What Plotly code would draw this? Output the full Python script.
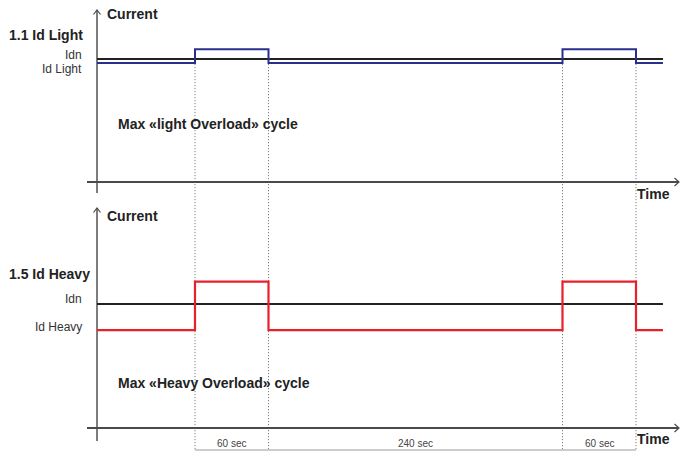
import plotly.graph_objects as go

# ---- cycle timing (seconds) ----
t_start = 0
pulse_starts = [80, 380]
pulse_len = 60
rest_len = 240
t_end = 462
interval_labels = ["60 sec", "240 sec", "60 sec"]

# ---- current levels (relative to Idn = 1) ----
idn = 1.0
light_base = 0.967      # Id Light
light_peak = 1.08       # 1.1 Id Light
heavy_base = 0.79       # Id Heavy
heavy_peak = 1.18       # 1.5 Id Heavy

# ---- styling ----
FONT = "Liberation Sans, Arial, sans-serif"
BLUE = "#2a2f8e"
RED = "#e8202a"
BLACK = "#222222"
AXIS_Y = "#7d7d7d"
AXIS_X = "#4a4a4a"
DOT = "#666666"

W, H = 681, 451
PX_PER_S = 1.225           # horizontal scale
ORIGIN_PX = 97             # pixel column of the time origin
TOP_ZERO_PX, TOP_UNIT = 182, 123     # top panel: zero line pixel row, px per unit
BOT_ZERO_PX, BOT_UNIT = 428, 124     # bottom panel


def top_v(px):
    return (TOP_ZERO_PX - px) / TOP_UNIT


def bot_v(px):
    return (BOT_ZERO_PX - px) / BOT_UNIT


def t_of(px):
    return (px - ORIGIN_PX) / PX_PER_S


# step profile of the overload cycle
edges = [t_start]
for s in pulse_starts:
    edges += [s, s + pulse_len]
edges.append(t_end)


def profile(base, peak):
    ys = [base]
    for _ in pulse_starts:
        ys += [peak, base]
    ys.append(base)
    return ys


fig = go.Figure()


def line(x, y, color, width, axis="y", dash=None, shape="linear"):
    fig.add_trace(go.Scatter(
        x=x, y=y, mode="lines", yaxis=axis, hoverinfo="skip", showlegend=False,
        line=dict(color=color, width=width, dash=dash, shape=shape)))


# dotted guides at each pulse edge, spanning both panels
for s in pulse_starts:
    for t in (s, s + pulse_len):
        line([t, t], [light_peak, top_v(450)], DOT, 1, "y", dash="1px,2px")

# bracket line under the duration labels
line([pulse_starts[0], pulse_starts[-1] + pulse_len], [bot_v(450), bot_v(450)], "#9a9a9a", 1, "y2")

# axes: top panel
line([0, 0], [top_v(193), top_v(10)], AXIS_Y, 2, "y")
line([t_of(87), t_of(679)], [0, 0], AXIS_X, 1.8, "y")
# axes: bottom panel
line([0, 0], [bot_v(441), bot_v(208)], AXIS_Y, 2, "y2")
line([t_of(87), t_of(679)], [0, 0], AXIS_X, 1.8, "y2")

# arrow chevrons
ax_dx = 4.5 / PX_PER_S
line([-3.5 / PX_PER_S, 0, 3.5 / PX_PER_S], [top_v(14.5), top_v(10), top_v(14.5)], AXIS_X, 1.2, "y")
line([-3.5 / PX_PER_S, 0, 3.5 / PX_PER_S], [bot_v(212.5), bot_v(208), bot_v(212.5)], AXIS_X, 1.2, "y2")
xt = t_of(679)
line([xt - ax_dx, xt, xt - ax_dx], [top_v(178), 0, top_v(186)], AXIS_X, 1.2, "y")
line([xt - ax_dx, xt, xt - ax_dx], [bot_v(424), 0, bot_v(432)], AXIS_X, 1.2, "y2")

# nominal current lines
line([t_start, t_end], [idn, idn], BLACK, 2, "y")
line([t_start, t_end], [idn, idn], BLACK, 2, "y2")

# overload cycles
line(edges, profile(light_base, light_peak), BLUE, 2, "y", shape="hv")
line(edges, profile(heavy_base, heavy_peak), RED, 2.2, "y2", shape="hv")


def label(text, xpx, y, yref, size=12, bold=False, anchor="right", yshift=0, color="#333333"):
    fig.add_annotation(
        x=xpx / W, xref="paper", y=y, yref=yref, yshift=yshift,
        text=f"<b>{text}</b>" if bold else text, showarrow=False,
        xanchor=anchor, yanchor="middle",
        font=dict(family=FONT, size=size, color=color))


# top panel texts
label("Current", 105, top_v(14), "y", 14, True, "left", color=BLACK)
label("1.1 Id Light", 85, light_peak, "y", 14, True, yshift=14, color=BLACK)
label("Idn", 84, idn, "y", 12, yshift=4)
label("Id Light", 84, light_base, "y", 12, yshift=-6)
label("Max «light Overload» cycle", 116, top_v(124), "y", 14, True, "left", color=BLACK)
label("Time", 635, top_v(194), "y", 14, True, "left", color=BLACK)

# bottom panel texts
label("Current", 105, bot_v(216), "y2", 14, True, "left", color=BLACK)
label("1.5 Id Heavy", 92, heavy_peak, "y2", 14, True, yshift=8, color=BLACK)
label("Idn", 84, idn, "y2", 12, yshift=5)
label("Id Heavy", 84, heavy_base, "y2", 12, yshift=3)
label("Max «Heavy Overload» cycle", 116, bot_v(383), "y2", 14, True, "left", color=BLACK)
label("Time", 635, bot_v(439), "y2", 14, True, "left", color=BLACK)

# duration labels between the guides
spans = [(pulse_starts[0], pulse_starts[0] + pulse_len),
         (pulse_starts[0] + pulse_len, pulse_starts[0] + pulse_len + rest_len),
         (pulse_starts[1], pulse_starts[1] + pulse_len)]
for (a, b), txt in zip(spans, interval_labels):
    fig.add_annotation(
        x=(a + b) / 2, xref="x", y=bot_v(443), yref="y2", text=txt, showarrow=False,
        xanchor="center", yanchor="middle",
        font=dict(family=FONT, size=10, color="#444444"))

hidden = dict(visible=False, showgrid=False, zeroline=False, fixedrange=True)
fig.update_layout(
    width=W, height=H, margin=dict(l=0, r=0, t=0, b=0),
    paper_bgcolor="white", plot_bgcolor="white", showlegend=False,
    xaxis=dict(range=[t_of(0), t_of(W)], **hidden),
    yaxis=dict(range=[top_v(H), top_v(0)], domain=[0, 1], **hidden),
    yaxis2=dict(range=[bot_v(H), bot_v(0)], overlaying="y", **hidden),
)

fig.write_html("out.html")
